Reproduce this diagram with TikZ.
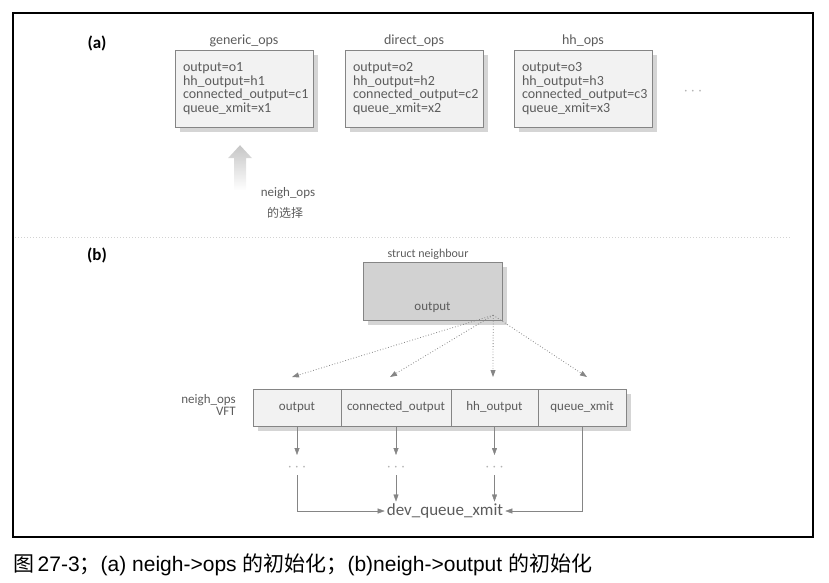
\documentclass[tikz,border=0pt]{standalone}
\usepackage{fontspec}
\setmainfont{Carlito}
\newfontfamily\cjk{Noto Sans CJK SC}
\newfontfamily\capfont{Liberation Sans}
\usetikzlibrary{positioning,shadows,arrows.meta}
\definecolor{ink}{gray}{0.36}
\definecolor{edge}{gray}{0.52}
\definecolor{paper}{gray}{0.95}

\begin{document}
\begin{tikzpicture}[x=1pt,y=-1pt,
    txt/.style={text=ink,font=\fontsize{13}{13.5}\selectfont,inner sep=1pt},
    shade box/.style={drop shadow={shadow xshift=5pt,shadow yshift=-5pt,fill=gray!55,opacity=.6}},
    opsbox/.style={draw=edge,fill=paper,text=ink,font=\fontsize{14}{13.5}\selectfont,
        align=left,text width=122pt,inner xsep=8pt,minimum height=77pt,shade box},
    cell/.style={draw=edge,fill=paper,text=ink,font=\fontsize{13}{13.5}\selectfont,
        minimum height=37pt,inner xsep=0pt,outer sep=0pt,shade box},
    dots/.style={text=gray!60,font=\fontsize{12}{12}\selectfont,inner sep=0pt},
    link/.style={draw=edge,-{Triangle[length=7pt,width=5pt]}},
    dotlink/.style={link,dotted,thick}]
    \useasboundingbox (0,0) rectangle (829,582);

    % Frame
    \draw[line width=1.2pt] (13,13) rectangle (813,537);
    \draw[gray!35,dotted,line width=1pt] (15,237) -- (790,237);

    % (a) the ops tables
    \node[font=\bfseries\fontsize{17}{17}\selectfont] (parta) at (97,43) {(a)};
    \foreach \i/\x/\t in {1/244/generic\_ops,2/414/direct\_ops,3/583/hh\_ops} {
        \node[opsbox] (box\i) at (\x,88.5)
            {output=o\i\\hh\_output=h\i\\connected\_output=c\i\\queue\_xmit=x\i};
        \node[txt,font=\fontsize{14}{14}\selectfont] (title\i) at (\x,41) {\t};
    }
    \node[dots] (more) at (693,92) {·\,\,·\,\,·};

    % Selection arrow
    \coordinate (tip) at ([xshift=-4pt,yshift=-18pt]box1.south);
    \shade[top color=gray!45,bottom color=white] (tip) -- ++(12,13) -- ++(-6,0) -- ++(0,32)
        -- ++(-12,0) -- ++(0,-32) -- ++(-6,0) -- cycle;
    \node[txt] (selA) at (288,193) {neigh\_ops};
    \node[txt,font=\cjk\fontsize{12}{12}\selectfont] (selB) at (285,213) {的选择};

    % (b) struct neighbour and the VFT
    \node[font=\bfseries\fontsize{17}{17}\selectfont] (partb) at (97,255) {(b)};
    \node[draw=edge,fill=gray!35,minimum width=139pt,minimum height=58pt,shade box] (nb) at (432.5,291) {};
    \node[txt,font=\fontsize{12}{12}\selectfont] (nbtitle) at (428,254) {struct neighbour};
    \node[txt] (nbout) at ([yshift=13pt]nb.south) {output};
    \coordinate (src) at ([xshift=-9pt,yshift=5pt]nb.south east);

    \node[txt,align=right,anchor=east,font=\fontsize{13}{12}\selectfont] (vft) at (237,405) {neigh\_ops\\VFT};
    \node[cell,minimum width=88pt] (c1) at (297,407.5) {output};
    \node[cell,minimum width=110pt,right=0pt of c1] (c2) {connected\_output};
    \node[cell,minimum width=87pt,right=0pt of c2] (c3) {hh\_output};
    \node[cell,minimum width=88pt,right=0pt of c3] (c4) {queue\_xmit};

    \foreach \i/\dx in {1/-5,2/-6,3/-1.5,4/5} {
        \draw[dotlink] (src) -- ([xshift=\dx pt,yshift=12pt]c\i.north);
    }

    % Down to dev_queue_xmit
    \node[text=ink,font=\fontsize{17}{17}\selectfont,inner sep=2pt] (dev) at (445,511) {dev\_queue\_xmit};
    \foreach \i in {1,2,3} {
        \node[dots] (d\i) at ([yshift=-42pt]c\i.south) {·\,\,·\,\,·};
        \draw[link] (c\i.south) -- ([yshift=13pt]d\i.center);
    }
    \foreach \i in {2,3} {
        \draw[link] ([yshift=-7pt]d\i.center) -- (d\i.center |- dev.north);
    }
    \draw[link] ([yshift=-7pt]d1.center) |- (dev.west);
    \draw[link] (c4.south) |- (dev.east);

    % Caption
    \node[anchor=west,inner sep=0pt,font=\capfont\fontsize{21}{21}\selectfont] (cap) at (13,565)
        {{\cjk 图}\,27-3{\cjk ；}(a) neigh-{}>ops {\cjk 的初始化；}(b)neigh-{}>output {\cjk 的初始化}};
\end{tikzpicture}
\end{document}
